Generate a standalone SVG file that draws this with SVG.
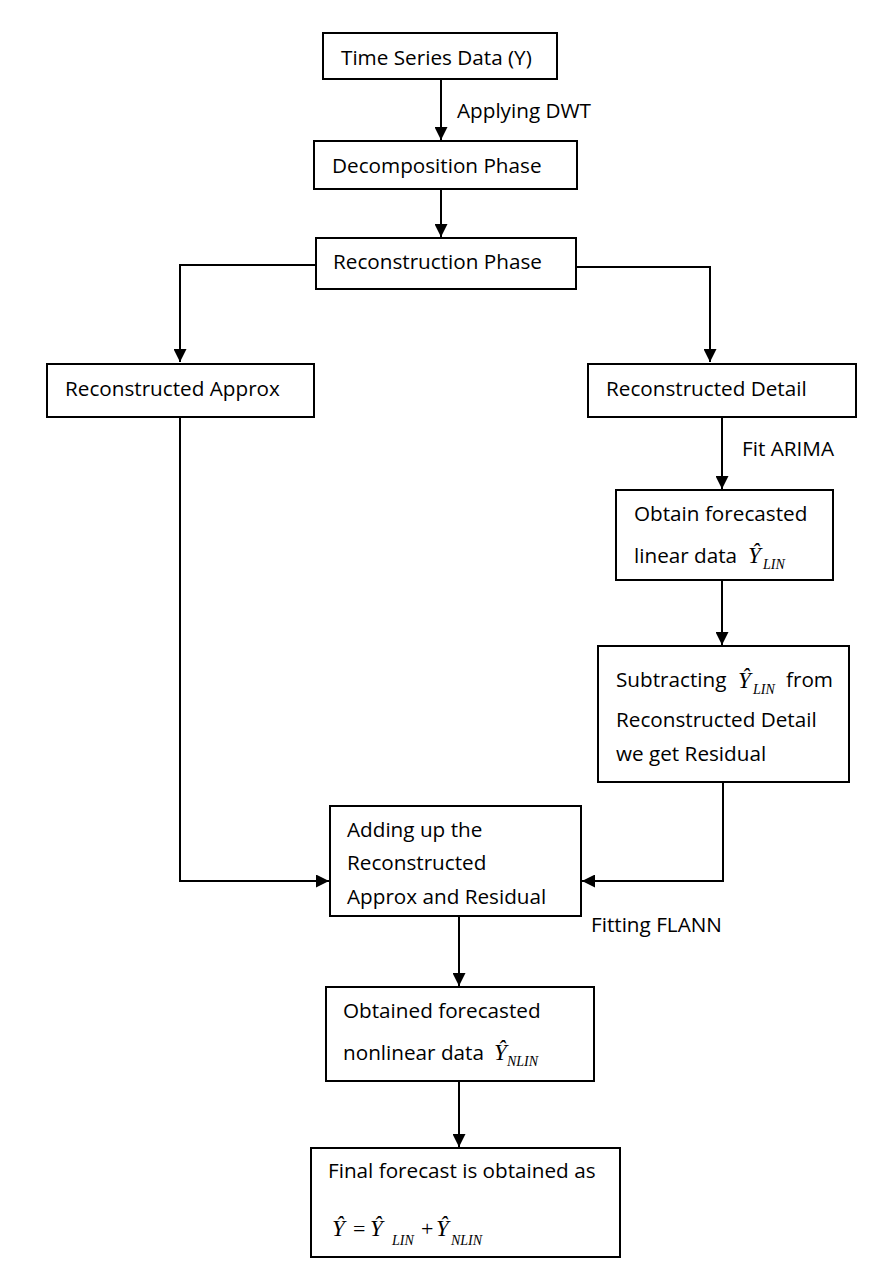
<svg xmlns="http://www.w3.org/2000/svg" width="879" height="1277" viewBox="0 0 879 1277">
  <defs>
    <marker id="arrow" viewBox="0 0 10 10" refX="10" refY="5" markerWidth="13" markerHeight="13" markerUnits="userSpaceOnUse" orient="auto">
      <path d="M0,0 L10,5 L0,10 z" fill="#000"/>
    </marker>
    <style>
      .box { fill: #fff; stroke: #000; stroke-width: 2; }
      .lbl { font-family: "Open Sans", "Liberation Sans", sans-serif; font-size: 20.7px; fill: #000; }
      .m { font-family: "Liberation Serif", "Times New Roman", serif; font-style: italic; fill: #000; }
      .mr { font-family: "Liberation Serif", "Times New Roman", serif; fill: #000; }
      .edge { fill: none; stroke: #000; stroke-width: 2; }
      .arr { marker-end: url(#arrow); }
    </style>
  </defs>
  <rect width="879" height="1277" fill="#fff"/>

  <g id="connectors">
    <path class="edge arr" d="M441,79 V140"/>
    <path class="edge arr" d="M441,189 V237"/>
    <path class="edge arr" d="M316,265 H180 V362"/>
    <path class="edge arr" d="M576,267 H710 V362"/>
    <path class="edge arr" d="M722,418 V489"/>
    <path class="edge arr" d="M722,581 V645"/>
    <path class="edge arr" d="M180,418 V881 H329"/>
    <path class="edge arr" d="M723,783 V881 H582"/>
    <path class="edge arr" d="M459,917 V986"/>
    <path class="edge arr" d="M459,1082 V1147"/>
    <text class="lbl" x="457" y="118">Applying DWT</text>
    <text class="lbl" x="742" y="456">Fit ARIMA</text>
    <text class="lbl" x="591" y="932">Fitting FLANN</text>
  </g>

  <g id="node-time-series">
    <rect class="box" x="323" y="33" width="234" height="46"/>
    <text class="lbl" x="341" y="65">Time Series Data (Y)</text>
  </g>

  <g id="node-decomposition">
    <rect class="box" x="314" y="141" width="263" height="48"/>
    <text class="lbl" x="332" y="173">Decomposition Phase</text>
  </g>

  <g id="node-reconstruction">
    <rect class="box" x="316" y="238" width="260" height="51"/>
    <text class="lbl" x="333" y="269">Reconstruction Phase</text>
  </g>

  <g id="node-approx">
    <rect class="box" x="47" y="364" width="267" height="53"/>
    <text class="lbl" x="65" y="396">Reconstructed Approx</text>
  </g>

  <g id="node-detail">
    <rect class="box" x="588" y="364" width="268" height="53"/>
    <text class="lbl" x="606" y="396">Reconstructed Detail</text>
  </g>

  <g id="node-linear-forecast">
    <rect class="box" x="616" y="490" width="217" height="90"/>
    <text class="lbl" x="634" y="521">Obtain forecasted</text>
    <text class="lbl" x="634" y="563">linear data</text>
    <text class="m" x="748" y="563" font-size="23">Ŷ</text>
    <text class="m" x="763" y="569" font-size="14">LIN</text>
  </g>

  <g id="node-residual">
    <rect class="box" x="598" y="646" width="251" height="136"/>
    <text class="lbl" x="616" y="687">Subtracting</text>
    <text class="m" x="738" y="688" font-size="23">Ŷ</text>
    <text class="m" x="753" y="694" font-size="14">LIN</text>
    <text class="lbl" x="786" y="687">from</text>
    <text class="lbl" x="616" y="727">Reconstructed Detail</text>
    <text class="lbl" x="616" y="761">we get Residual</text>
  </g>

  <g id="node-adding">
    <rect class="box" x="330" y="806" width="251" height="110"/>
    <text class="lbl" x="347" y="837">Adding up the</text>
    <text class="lbl" x="347" y="870">Reconstructed</text>
    <text class="lbl" x="347" y="904">Approx and Residual</text>
  </g>

  <g id="node-nonlinear-forecast">
    <rect class="box" x="326" y="987" width="268" height="94"/>
    <text class="lbl" x="343" y="1018">Obtained forecasted</text>
    <text class="lbl" x="343" y="1060">nonlinear data</text>
    <text class="m" x="494" y="1060" font-size="23">Ŷ</text>
    <text class="m" x="507" y="1066" font-size="14">NLIN</text>
  </g>

  <g id="node-final">
    <rect class="box" x="311" y="1148" width="309" height="109"/>
    <text class="lbl" x="328" y="1178">Final forecast is obtained as</text>
    <text class="m" x="332" y="1236" font-size="23">Ŷ</text>
    <text class="mr" x="353" y="1236" font-size="22">=</text>
    <text class="m" x="370" y="1236" font-size="23">Ŷ</text>
    <text class="m" x="392" y="1245" font-size="14">LIN</text>
    <text class="mr" x="421" y="1236" font-size="22">+</text>
    <text class="m" x="436" y="1236" font-size="23">Ŷ</text>
    <text class="m" x="451" y="1245" font-size="14">NLIN</text>
  </g>
</svg>
